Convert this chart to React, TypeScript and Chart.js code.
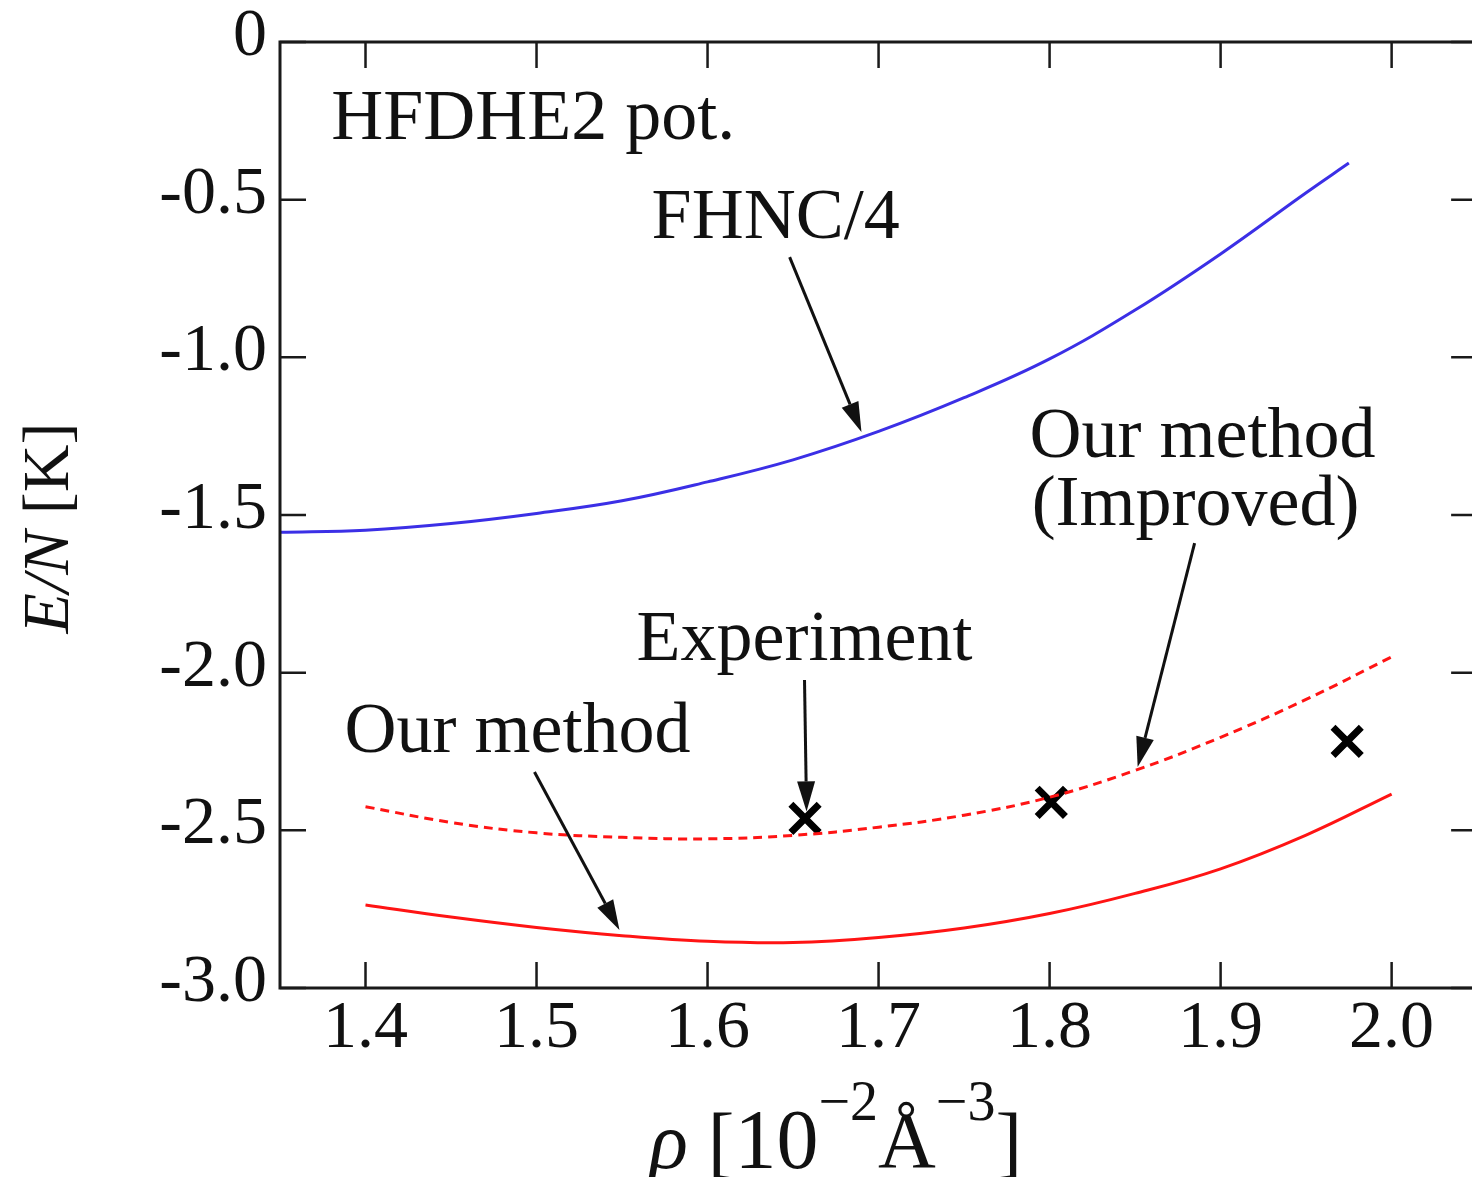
import React, { useEffect, useRef } from "react";
import { Chart, registerables } from "chart.js";

Chart.register(...registerables);

// Density rho [10^-2 Å^-3] and energy per particle E/N [K]
const rhoFhnc = [1.35, 1.4, 1.45, 1.5, 1.55, 1.6, 1.65, 1.7, 1.75, 1.8, 1.85, 1.9, 1.95, 1.975];
const energyFhnc = [-1.555, -1.548, -1.527, -1.495, -1.455, -1.395, -1.325, -1.235, -1.128, -1.005, -0.85, -0.672, -0.478, -0.384];

const rhoOurs = [1.4, 1.45, 1.5, 1.55, 1.6, 1.65, 1.7, 1.75, 1.8, 1.85, 1.9, 1.95, 2.0];
const energyOurs = [-2.737, -2.775, -2.808, -2.834, -2.852, -2.856, -2.84, -2.81, -2.764, -2.7, -2.622, -2.515, -2.385];
const energyImproved = [-2.425, -2.475, -2.508, -2.522, -2.527, -2.516, -2.49, -2.452, -2.395, -2.31, -2.205, -2.085, -1.95];

const rhoExperiment = [1.657, 1.801, 1.974];
const energyExperiment = [-2.462, -2.411, -2.218];

const xTickValues = [1.4, 1.5, 1.6, 1.7, 1.8, 1.9, 2.0];
const yTickValues = [0, -0.5, -1.0, -1.5, -2.0, -2.5, -3.0];

const SERIF = '"Liberation Serif", serif';
const INK = "#111111";

const toPoints = (xs: number[], ys: number[]) => xs.map((x, i) => ({ x, y: ys[i] }));

function drawArrow(ctx: CanvasRenderingContext2D, x0: number, y0: number, x1: number, y1: number) {
  const ang = Math.atan2(y1 - y0, x1 - x0);
  const headLen = 30;
  const headHalf = 9;
  const bx = x1 - headLen * Math.cos(ang);
  const by = y1 - headLen * Math.sin(ang);
  ctx.save();
  ctx.strokeStyle = INK;
  ctx.fillStyle = INK;
  ctx.lineWidth = 3;
  ctx.beginPath();
  ctx.moveTo(x0, y0);
  ctx.lineTo(bx, by);
  ctx.stroke();
  ctx.beginPath();
  ctx.moveTo(x1, y1);
  ctx.lineTo(bx + headHalf * Math.sin(ang), by - headHalf * Math.cos(ang));
  ctx.lineTo(bx - headHalf * Math.sin(ang), by + headHalf * Math.cos(ang));
  ctx.closePath();
  ctx.fill();
  ctx.restore();
}

const zeroPadding = (s: any) => {
  s.paddingLeft = 0;
  s.paddingRight = 0;
  s.paddingTop = 0;
  s.paddingBottom = 0;
};

// Frame, inward ticks, annotations and axis titles
const decorPlugin = {
  id: "decor",
  afterDraw(chart: any) {
    const { ctx, chartArea } = chart;
    const xs = chart.scales.x;
    const ys = chart.scales.y;
    const px = (v: number) => xs.getPixelForValue(v);
    const py = (v: number) => ys.getPixelForValue(v);
    const { left, top, bottom } = chartArea;
    const right = px(2.05);
    const tick = 26;

    ctx.save();
    ctx.strokeStyle = "#1a1a1a";
    ctx.lineWidth = 3;
    ctx.beginPath();
    ctx.moveTo(right, top);
    ctx.lineTo(left, top);
    ctx.lineTo(left, bottom);
    ctx.lineTo(right, bottom);
    ctx.lineTo(right, top);
    ctx.stroke();

    ctx.lineWidth = 2.5;
    ctx.beginPath();
    xTickValues.forEach((v) => {
      const x = px(v);
      ctx.moveTo(x, bottom);
      ctx.lineTo(x, bottom - tick);
      ctx.moveTo(x, top);
      ctx.lineTo(x, top + tick);
    });
    yTickValues.forEach((v) => {
      const y = py(v);
      ctx.moveTo(left, y);
      ctx.lineTo(left + tick, y);
      ctx.moveTo(right, y);
      ctx.lineTo(right - tick, y);
    });
    ctx.stroke();
    ctx.restore();

    // annotations
    ctx.save();
    ctx.fillStyle = INK;
    ctx.textBaseline = "alphabetic";
    ctx.textAlign = "left";
    ctx.font = `72px ${SERIF}`;
    ctx.fillText("HFDHE2 pot.", px(1.38), py(-0.3076));
    ctx.fillText("FHNC/4", px(1.5673), py(-0.6216));
    ctx.fillText("Our method", px(1.7883), py(-1.316));
    ctx.fillText("(Improved)", px(1.7895), py(-1.532));
    ctx.fillText("Experiment", px(1.5585), py(-1.96));
    ctx.fillText("Our method", px(1.3877), py(-2.2516));
    ctx.restore();

    drawArrow(ctx, px(1.648), py(-0.682), px(1.69), py(-1.237));
    drawArrow(ctx, px(1.8848), py(-1.589), px(1.8515), py(-2.299));
    drawArrow(ctx, px(1.6567), py(-2.023), px(1.6579), py(-2.44));
    drawArrow(ctx, px(1.4988), py(-2.315), px(1.5485), py(-2.816));

    // x axis title: ρ [10^-2 Å^-3]
    ctx.save();
    ctx.fillStyle = INK;
    ctx.textBaseline = "alphabetic";
    ctx.textAlign = "left";
    const base = 1168;
    const sup = base - 48;
    let cx = px(1.566);
    const put = (t: string, font: string, y: number) => {
      ctx.font = font;
      ctx.fillText(t, cx, y);
      cx += ctx.measureText(t).width;
    };
    put("\u03C1", `italic 80px ${SERIF}`, base);
    put(" [", `80px ${SERIF}`, base);
    put("10", `84px ${SERIF}`, base);
    put("\u22122", `56px ${SERIF}`, sup);
    put("\u00C5", `80px ${SERIF}`, base);
    put("\u22123", `56px ${SERIF}`, sup);
    put("]", `80px ${SERIF}`, base);
    ctx.restore();

    // y axis title: E/N [K]
    ctx.save();
    ctx.fillStyle = INK;
    ctx.translate(68, 528);
    ctx.rotate(-Math.PI / 2);
    ctx.textBaseline = "alphabetic";
    const parts: [string, string][] = [
      ["E/N", `italic 66px ${SERIF}`],
      [" [K]", `66px ${SERIF}`],
    ];
    let total = 0;
    parts.forEach(([t, f]) => {
      ctx.font = f;
      total += ctx.measureText(t).width;
    });
    let tx = -total / 2;
    parts.forEach(([t, f]) => {
      ctx.font = f;
      ctx.fillText(t, tx, 0);
      tx += ctx.measureText(t).width;
    });
    ctx.restore();
  },
};

export default function App() {
  const canvasRef = useRef<HTMLCanvasElement | null>(null);

  useEffect(() => {
    const canvas = canvasRef.current;
    if (!canvas) return;
    const chart = new Chart(canvas, {
      type: "scatter",
      data: {
        datasets: [
          {
            label: "FHNC/4",
            data: toPoints(rhoFhnc, energyFhnc),
            showLine: true,
            borderColor: "#3b2fe6",
            borderWidth: 3,
            pointRadius: 0,
            tension: 0.4,
          },
          {
            label: "Our method",
            data: toPoints(rhoOurs, energyOurs),
            showLine: true,
            borderColor: "#ff1414",
            borderWidth: 3,
            pointRadius: 0,
            tension: 0.4,
          },
          {
            label: "Our method (Improved)",
            data: toPoints(rhoOurs, energyImproved),
            showLine: true,
            borderColor: "#ff1414",
            borderWidth: 3,
            borderDash: [9, 6],
            pointRadius: 0,
            tension: 0.4,
          },
          {
            label: "Experiment",
            data: toPoints(rhoExperiment, energyExperiment),
            showLine: false,
            pointStyle: "crossRot",
            pointRadius: 20,
            pointBorderWidth: 7,
            borderColor: "#000000",
            backgroundColor: "#000000",
          },
        ],
      },
      options: {
        responsive: false,
        animation: false,
        layout: { autoPadding: false, padding: { top: 42, left: 0, right: 0, bottom: 0 } },
        plugins: { legend: { display: false }, tooltip: { enabled: false } },
        scales: {
          x: {
            type: "linear",
            min: 1.35,
            max: 2.047,
            grid: { display: false, drawTicks: false },
            border: { display: false },
            afterBuildTicks: (s: any) => {
              s.ticks = xTickValues.map((v) => ({ value: v }));
            },
            afterFit: (s: any) => {
              s.height = 189;
              zeroPadding(s);
            },
            ticks: {
              autoSkip: false,
              maxRotation: 0,
              padding: 0,
              color: INK,
              font: { family: SERIF, size: 68 },
              callback: (v: any) => Number(v).toFixed(1),
            },
          },
          y: {
            type: "linear",
            min: -3,
            max: 0,
            grid: { display: false, drawTicks: false },
            border: { display: false },
            afterBuildTicks: (s: any) => {
              s.ticks = yTickValues.map((v) => ({ value: v }));
            },
            afterFit: (s: any) => {
              s.width = 280;
              zeroPadding(s);
            },
            ticks: {
              autoSkip: false,
              padding: 13,
              labelOffset: -5,
              color: INK,
              font: { family: SERIF, size: 68 },
              callback: (v: any) => (Number(v) === 0 ? "0" : Number(v).toFixed(1)),
            },
          },
        },
      },
      plugins: [decorPlugin],
    });
    return () => chart.destroy();
  }, []);

  return (
    <div style={{ position: "fixed", left: 0, top: 0, width: 1472, height: 1177, background: "#ffffff" }}>
      <canvas ref={canvasRef} width={1472} height={1177} style={{ width: 1472, height: 1177, display: "block" }} />
    </div>
  );
}
